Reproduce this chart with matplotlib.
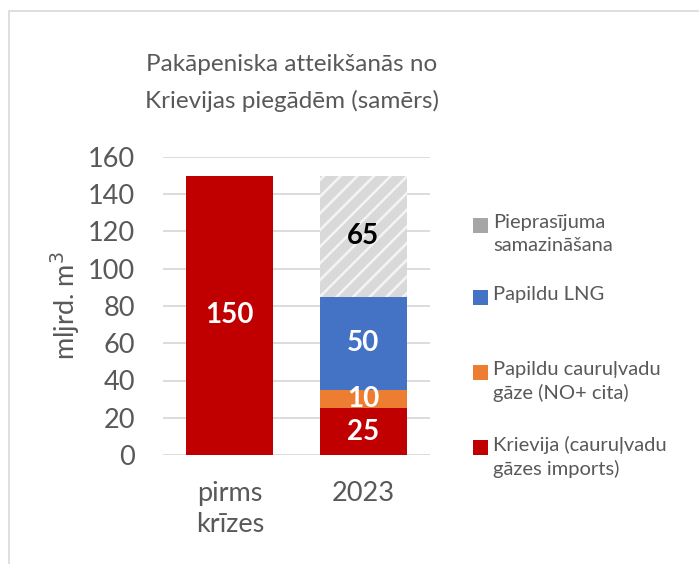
import matplotlib
matplotlib.use("Agg")
import matplotlib.pyplot as plt
from matplotlib.patches import Rectangle
import numpy as np

plt.rcParams['font.family'] = ['Lato', 'DejaVu Sans']
plt.rcParams['hatch.linewidth'] = 1.8

categories = ["pirms\nkrīzes", "2023"]
series_names = ["Krievija (cauruļvadu\ngāzes imports)",
                "Papildu cauruļvadu\ngāze (NO+ cita)",
                "Papildu LNG",
                "Pieprasījuma\nsamazināšana"]
krievija = [150, 25]
caurulvadu = [0, 10]
lng = [0, 50]
pieprasijums = [0, 65]
series_values = [krievija, caurulvadu, lng, pieprasijums]
colors = ["#C00000", "#ED7D31", "#4472C4", "#D9D9D9"]
legend_colors = ["#C00000", "#ED7D31", "#4472C4", "#A6A6A6"]
label_colors = ["white", "white", "white", "black"]
yticks = [0, 20, 40, 60, 80, 100, 120, 140, 160]

W, H = 699, 564
fig = plt.figure(figsize=(W / 100, H / 100), dpi=100)
fig.patch.set_facecolor("white")

# outer chart border
fig.patches.append(Rectangle((9 / W, -0.01), 1.02, 1 - 11 / H + 0.01, transform=fig.transFigure,
                             fill=False, edgecolor="#D9D9D9", linewidth=1.2))

ax = fig.add_axes([163 / W, 1 - 455 / H, (430 - 163) / W, (455 - 157) / H])
x = np.arange(len(categories))
bottom = np.zeros(len(categories))
for vals, col, lc in zip(series_values, colors, label_colors):
    vals = np.array(vals, dtype=float)
    if col == "#D9D9D9":
        ax.bar(x, vals, 0.65, bottom=bottom, facecolor=col, edgecolor="#F4F4F4",
               hatch="//", linewidth=0, zorder=2)
    else:
        ax.bar(x, vals, 0.65, bottom=bottom, color=col, linewidth=0, zorder=2)
    for xi, v, b in zip(x, vals, bottom):
        if v > 0:
            ax.text(xi, b + v / 2, f"{v:g}", ha="center", va="center", color=lc,
                    fontsize=20, fontweight="bold", zorder=3)
    bottom += vals

ax.set_xlim(-0.5, 1.5)
ax.set_ylim(0, 160)
ax.set_yticks(yticks)
ax.set_xticks(x)
ax.set_xticklabels(categories, linespacing=1.3)
ax.grid(axis="y", color="#D9D9D9", linewidth=1.3, zorder=0)
ax.set_axisbelow(True)
for s in ax.spines.values():
    s.set_visible(False)
ax.tick_params(axis="both", length=0, labelsize=19.5, colors="#595959")
ax.tick_params(axis="y", pad=20)
ax.tick_params(axis="x", pad=19)
ax.set_ylabel("mljrd. m$^3$", fontsize=19.5, color="#595959", va="center")
ax.yaxis.set_label_coords(-0.367, 0.5)

fig.text(292 / W, 1 - 83 / H, "Pakāpeniska atteikšanās no\nKrievijas piegādēm (samērs)",
         ha="center", va="center", fontsize=17.5, color="#595959", linespacing=1.8)

# legend (top to bottom: reverse order)
ys = [225, 297, 372, 447]
for name, col, yy in zip(series_names[::-1], legend_colors[::-1], ys):
    fig.patches.append(Rectangle((473 / W, 1 - (yy + 7.5) / H), 15 / W, 15 / H,
                                 transform=fig.transFigure, facecolor=col, edgecolor="none"))
    fig.text(493 / W, 1 - (yy - 11) / H, name, ha="left", va="top", fontsize=14.5,
             color="#595959", linespacing=1.4)

fig.savefig("out.png", dpi=100)
